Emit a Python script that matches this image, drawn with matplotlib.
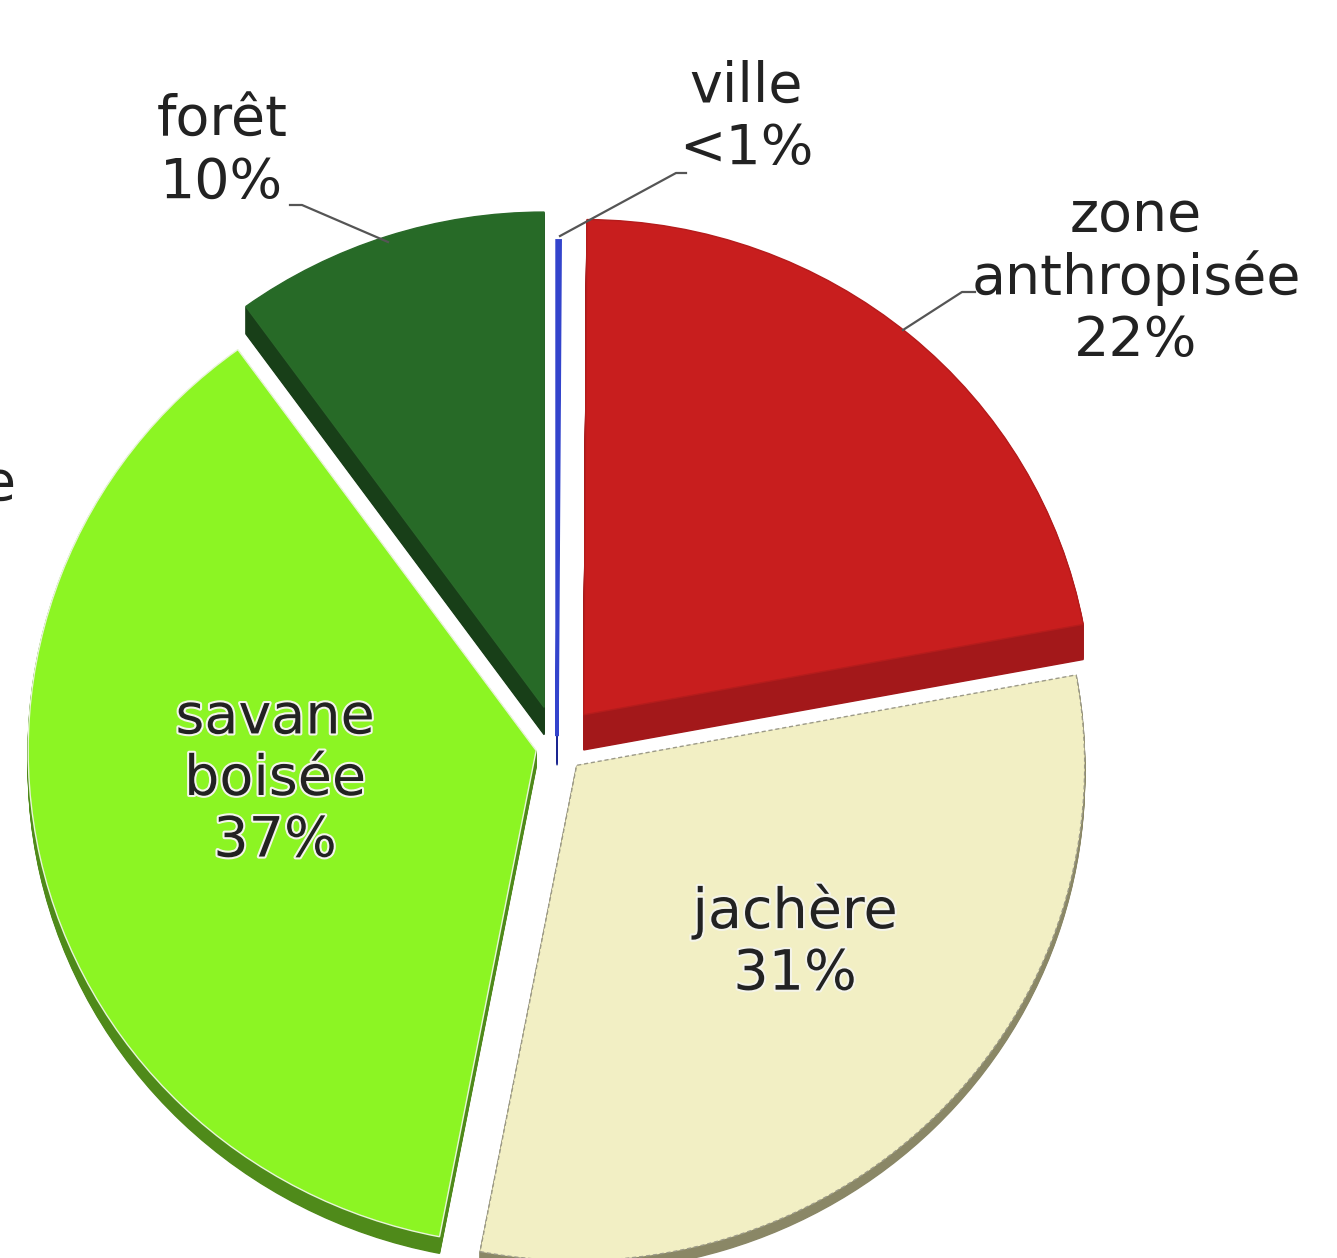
import matplotlib
matplotlib.use("Agg")
import matplotlib.pyplot as plt
import matplotlib.patheffects as pe

# data
labels = ["ville\n<1%", "zone\nanthropisée\n22%", "jachère\n31%", "savane\nboisée\n37%", "forêt\n10%"]
values = [0.1, 22, 31, 37, 10]
explode = [0.02, 0.082, 0.055, 0.042, 0.082]
top_colors = ["#2B3BC4", "#C81E1E", "#F2EFC4", "#8CF523", "#276A27"]
side_colors = ["#1A2590", "#A3181A", "#8A8766", "#4F8A1A", "#183F18"]

W, H = 1337, 1258
S = 0.975          # vertical squash of the tilted pie
R = 508
depth_px = [30, 36, 11, 17, 28]

def dx(x):
    return x

def dy(y):
    return (H - y) / S

fig = plt.figure(figsize=(W / 100, H / 100), dpi=100)
ax = fig.add_axes([0, 0, 1, 1])

cx, cy = dx(557), dy(746)
depth = [d / S for d in depth_px]
maxd = int(max(depth)) + 1
expl = [e * R for e in explode]   # pie explode is in data units

# sides of the slices (stacked copies going down)
for k in range(maxd, 0, -1):
    wedges, _ = ax.pie(values, explode=expl, startangle=90, counterclock=False,
                       radius=R, center=(cx, cy - k), colors=side_colors,
                       wedgeprops=dict(linewidth=1))
    for w, d, c in zip(wedges, depth, side_colors):
        w.set_edgecolor(c)
        if k > d:
            w.set_visible(False)

# top faces
wedges, _ = ax.pie(values, explode=expl, startangle=90, counterclock=False,
                   radius=R, center=(cx, cy), colors=top_colors,
                   wedgeprops=dict(linewidth=1))
edge_cols = ["#3344CC", "#B51C1C", "#9C9A88", "#E8F5D8", "#2A6A2A"]
for w, e in zip(wedges, edge_cols):
    w.set_edgecolor(e)
wedges[0].set_linewidth(2.5)
wedges[2].set_linestyle((0, (3, 2)))

ax.set_aspect("auto")
ax.set_xlim(0, W)
ax.set_ylim(0, H / S)
ax.axis("off")

txt = dict(fontsize=40, color="#222222", ha="center", va="center",
           family="DejaVu Sans", linespacing=1.18)
halo = [pe.withStroke(linewidth=3, foreground="#f4f4ea")]

# outside labels
ax.text(dx(222), dy(152), labels[4], **txt)
ax.text(dx(746), dy(118), labels[0], **txt)
ax.text(dx(1136), dy(278), labels[1], **txt)
# inside labels
ax.text(dx(275), dy(780), labels[3], path_effects=halo, **txt)
ax.text(dx(795), dy(943), labels[2], path_effects=halo, **txt)
# cut-off text at the left edge (as in the reference)
ax.text(dx(16), dy(485), "e", fontsize=40, color="#222222", ha="right", va="center",
        family="DejaVu Sans")

# leader lines
lc = dict(color="#555555", lw=1.6)
ax.plot([dx(290), dx(302), dx(388)], [dy(205), dy(205), dy(242)], **lc)
ax.plot([dx(686), dx(676), dx(560)], [dy(173), dy(173), dy(236)], **lc)
ax.plot([dx(975), dx(962), dx(903)], [dy(292), dy(292), dy(330)], **lc)

fig.savefig("out.png", dpi=100, facecolor="white")
